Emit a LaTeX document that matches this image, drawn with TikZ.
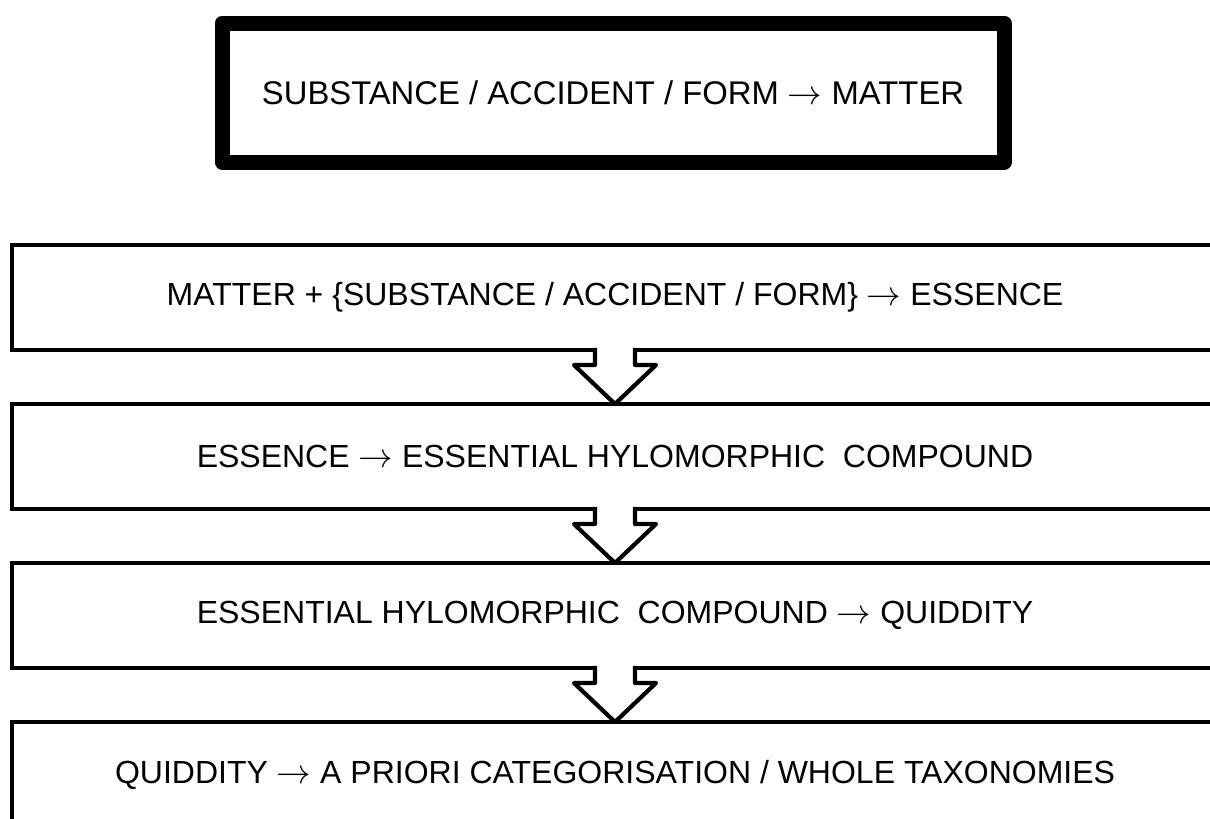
\documentclass[tikz,border=0pt]{standalone}
\usepackage{fontspec}
\setmainfont{Liberation Sans}
\usetikzlibrary{positioning}

\tikzstyle{mainbox} = [draw=black, line width=7.5pt, line join=round, rectangle,
    minimum width=391pt, minimum height=69.5pt, inner sep=0pt, outer sep=0pt,
    font=\fontsize{16.4}{19}\selectfont]
\tikzstyle{stepbox} = [draw=black, line width=2.25pt, rectangle,
    minimum width=603pt, minimum height=52.5pt, inner sep=0pt, outer sep=0pt]
\tikzstyle{downarrow} = [draw=black, fill=white, line width=2.1pt, line join=round]

\newcommand{\leadsarrow}{$\rightarrow$}

\begin{document}
\begin{tikzpicture}[x=0.5pt, y=-0.5pt, font=\fontsize{16}{19}\selectfont]
\useasboundingbox (0,0) rectangle (1210,819);

\node [mainbox] (top) at (613,92.5) {SUBSTANCE / ACCIDENT / FORM \leadsarrow{} MATTER};

\node [stepbox] (s1) at (615,297.5) {MATTER + \{SUBSTANCE / ACCIDENT / FORM\} \leadsarrow{} ESSENCE};
\node [stepbox, below=27pt of s1] (s2) {ESSENCE \leadsarrow{} ESSENTIAL HYLOMORPHIC~\ COMPOUND};
\node [stepbox, below=27pt of s2] (s3) {ESSENTIAL HYLOMORPHIC~\ COMPOUND \leadsarrow{} QUIDDITY};
\node [stepbox, below=27pt of s3] (s4) {QUIDDITY \leadsarrow{} A PRIORI CATEGORISATION / WHOLE TAXONOMIES};

% hollow arrows between the steps
\foreach \a/\b in {s1/s2, s2/s3, s3/s4}
  \draw [downarrow] ([xshift=-10pt,yshift=1.1pt]\a.south) -- ([xshift=-10pt,yshift=-7.5pt]\a.south)
    -- ([xshift=-20.5pt,yshift=-7.5pt]\a.south) -- (\b.north)
    -- ([xshift=20.5pt,yshift=-7.5pt]\a.south) -- ([xshift=10pt,yshift=-7.5pt]\a.south)
    -- ([xshift=10pt,yshift=1.1pt]\a.south);
\end{tikzpicture}
\end{document}
